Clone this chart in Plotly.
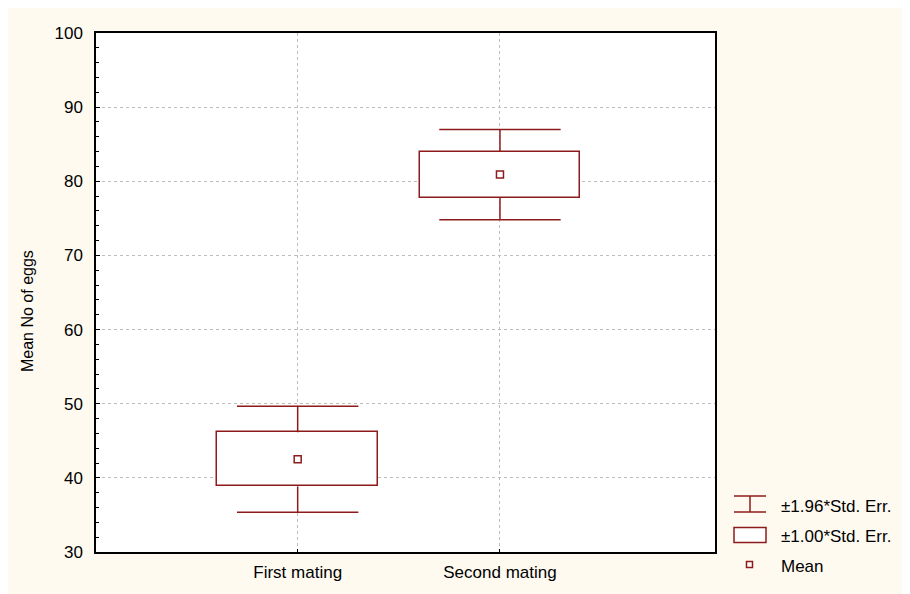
import plotly.graph_objects as go

# ---- data ----
categories = ["First mating", "Second mating"]
cat_pos = [0, 1]
means = [42.5, 80.9]
std_err = [3.65, 3.1]
ci_mult = 1.96
y_ticks = [30, 40, 50, 60, 70, 80, 90, 100]
legend_labels = ["±1.96*Std. Err.", "±1.00*Std. Err.", "Mean"]
y_title = "Mean No of eggs"

RED = "#8E1B1B"
CREAM = "#FEFAF0"
FONT = "Liberation Sans, Arial, sans-serif"

# page offset of the figure (browser body margin)
OFF = 8
# plot-area geometry in page pixels
L, R, T, B = 96, 715, 33, 552
W, H = 910, 594

def px(x):
    return (x - L) / (R - L)

def py(y):
    return (B - y) / (B - T)

fig = go.Figure()

# boxes (mean ± 1 SE)
box_low = [m - s for m, s in zip(means, std_err)]
box_len = [2 * s for s in std_err]
fig.add_trace(go.Bar(
    x=cat_pos, y=box_len, base=box_low, width=0.795,
    marker=dict(color="white", line=dict(color=RED, width=1.5)),
    showlegend=False, hoverinfo="skip"))

# whiskers (mean ± 1.96 SE)
cap = 0.3
wx, wy = [], []
for p, m, s in zip(cat_pos, means, std_err):
    hi_box, lo_box = m + s, m - s
    hi, lo = m + ci_mult * s, m - ci_mult * s
    wx += [p, p, None, p - cap, p + cap, None, p, p, None, p - cap, p + cap, None]
    wy += [hi_box, hi, None, hi, hi, None, lo_box, lo, None, lo, lo, None]
fig.add_trace(go.Scatter(x=wx, y=wy, mode="lines",
                         line=dict(color=RED, width=1.5),
                         showlegend=False, hoverinfo="skip"))

# means
fig.add_trace(go.Scatter(x=cat_pos, y=means, mode="markers",
                         marker=dict(symbol="square", size=7, color="white",
                                     line=dict(color=RED, width=1.5)),
                         showlegend=False))

# legend icons
lc = dict(color=RED, width=1.5)
shapes = [
    dict(type="line", xref="paper", yref="paper", x0=px(734), x1=px(766), y0=py(496), y1=py(496), line=lc),
    dict(type="line", xref="paper", yref="paper", x0=px(734), x1=px(766), y0=py(512), y1=py(512), line=lc),
    dict(type="line", xref="paper", yref="paper", x0=px(750), x1=px(750), y0=py(496), y1=py(512), line=lc),
    dict(type="rect", xref="paper", yref="paper", x0=px(734), x1=px(766), y0=py(527.5), y1=py(542.5),
         line=lc, fillcolor="white"),
    dict(type="rect", xref="paper", yref="paper", x0=px(746.5), x1=px(752.5), y0=py(561.5), y1=py(567.5),
         line=lc, fillcolor="white"),
]

annotations = []
for lab, yc in zip(legend_labels, [506, 536, 566]):
    annotations.append(dict(text=lab, xref="paper", yref="paper", x=px(779), y=py(yc),
                            xanchor="left", yanchor="middle", showarrow=False,
                            font=dict(family=FONT, size=17, color="black")))
annotations.append(dict(text=y_title, xref="paper", yref="paper", x=px(27), y=py(311),
                        xanchor="center", yanchor="middle", textangle=-90, showarrow=False,
                        font=dict(family=FONT, size=16, color="black")))

fig.update_layout(
    width=W, height=H,
    margin=dict(l=L - OFF, r=W + OFF - R, t=T - OFF, b=H + OFF - B, autoexpand=False),
    paper_bgcolor=CREAM, plot_bgcolor="white",
    showlegend=False, bargap=0,
    shapes=shapes, annotations=annotations,
    font=dict(family=FONT, size=17, color="black"),
)
fig.update_xaxes(
    range=[-0.997, 2.063], tickvals=cat_pos, ticktext=categories,
    showgrid=True, gridcolor="#BDBDBD", griddash="dot", gridwidth=1,
    zeroline=False, showline=True, linecolor="black", linewidth=1.5, mirror=True,
    ticks="inside", ticklen=3, tickcolor="black", ticklabelstandoff=4,
    tickfont=dict(family=FONT, size=17, color="black"), automargin=False,
)
fig.update_yaxes(
    range=[30, 100], tickvals=y_ticks,
    showgrid=True, gridcolor="#BDBDBD", griddash="dot", gridwidth=1,
    zeroline=False, showline=True, linecolor="black", linewidth=1.5, mirror=True,
    ticks="inside", ticklen=4, tickcolor="black", ticklabelstandoff=8,
    minor=dict(dtick=2, ticks="inside", ticklen=3, tickcolor="black", showgrid=False),
    tickfont=dict(family=FONT, size=17, color="black"), automargin=False,
)

fig.write_html("out.html")
